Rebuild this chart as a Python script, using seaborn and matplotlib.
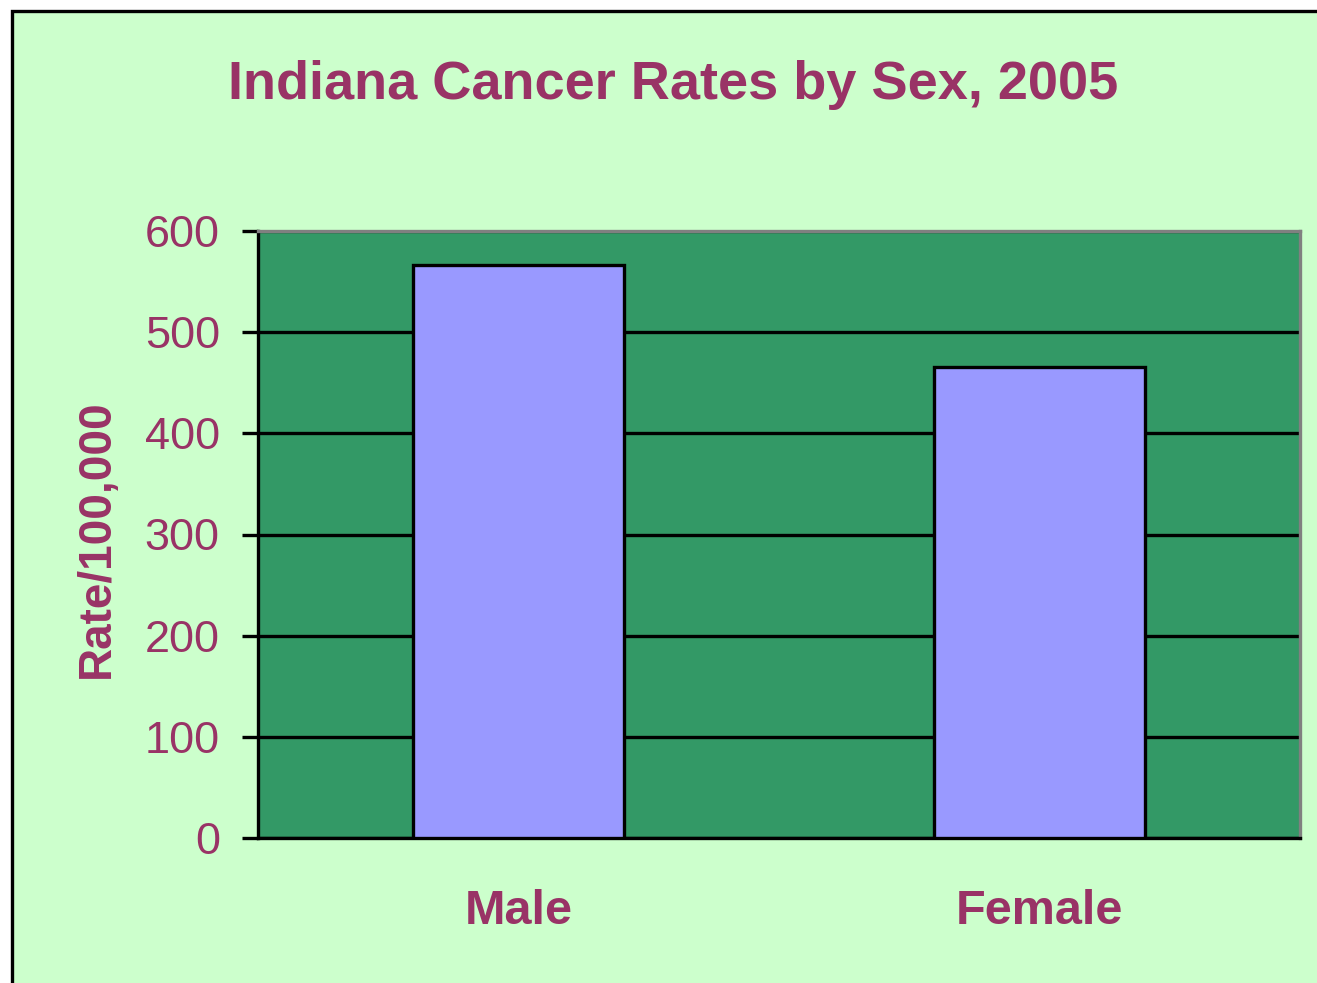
import matplotlib
matplotlib.use("Agg")
import matplotlib.pyplot as plt
import matplotlib.patches as mpatches
import seaborn as sns
import pandas as pd

categories = ["Male", "Female"]
rates = [566, 466]
y_ticks = [0, 100, 200, 300, 400, 500, 600]
title = "Indiana Cancer Rates by Sex, 2005"
y_label = "Rate/100,000"

TEXT = "#993366"
BG = "#CCFFCC"
PLOT = "#339966"
BAR = "#9999FF"

sns.set_style("white")
plt.rcParams["font.family"] = ["Liberation Sans", "DejaVu Sans"]

W, H = 1317, 983
fig = plt.figure(figsize=(W / 100, H / 100), dpi=100, facecolor="white")

# outer chart frame
fig.patches.append(mpatches.Rectangle((12 / W, -0.05), 1.1, 1 - 11 / H + 0.05,
                                      transform=fig.transFigure, facecolor=BG,
                                      edgecolor="black", linewidth=2.4, zorder=-10))

ax = fig.add_axes([258 / W, (H - 838) / H, (1300 - 258) / W, (838 - 231) / H])
ax.set_facecolor(PLOT)

df = pd.DataFrame({"sex": categories, "rate": rates})
sns.barplot(data=df, x="sex", y="rate", order=categories, color=BAR,
            saturation=1, width=0.405, edgecolor="black", linewidth=2.4, ax=ax, zorder=3)

ax.set_ylim(0, 600)
ax.set_xlim(-0.5, 1.5)
ax.set_yticks(y_ticks)
ax.set_yticklabels([str(v) for v in y_ticks], fontsize=32.5, color=TEXT)
ax.yaxis.grid(True, color="black", linewidth=2.4, zorder=0)
ax.set_axisbelow(True)
ax.tick_params(axis="y", direction="out", length=11.5, width=2.4, color="black", pad=16, left=True)
ax.tick_params(axis="x", length=0, pad=37)
for lab in ax.get_xticklabels():
    lab.set_fontsize(35)
    lab.set_fontweight("bold")
    lab.set_color(TEXT)
ax.set_xlabel("")
ax.set_ylabel("")

for s in ["left", "bottom"]:
    ax.spines[s].set_color("black")
    ax.spines[s].set_linewidth(2.4)
for s in ["top", "right"]:
    ax.spines[s].set_color("#808080")
    ax.spines[s].set_linewidth(2.4)
    ax.spines[s].set_visible(True)

fig.text(673.5 / W, 1 - 99 / H, title, ha="center", va="baseline",
         fontsize=39, fontweight="bold", color=TEXT)
fig.text(97 / W, 1 - 539 / H, y_label, ha="center", va="center", rotation=90,
         fontsize=33, fontweight="bold", color=TEXT)

fig.savefig("out.png", dpi=100, facecolor="white")
